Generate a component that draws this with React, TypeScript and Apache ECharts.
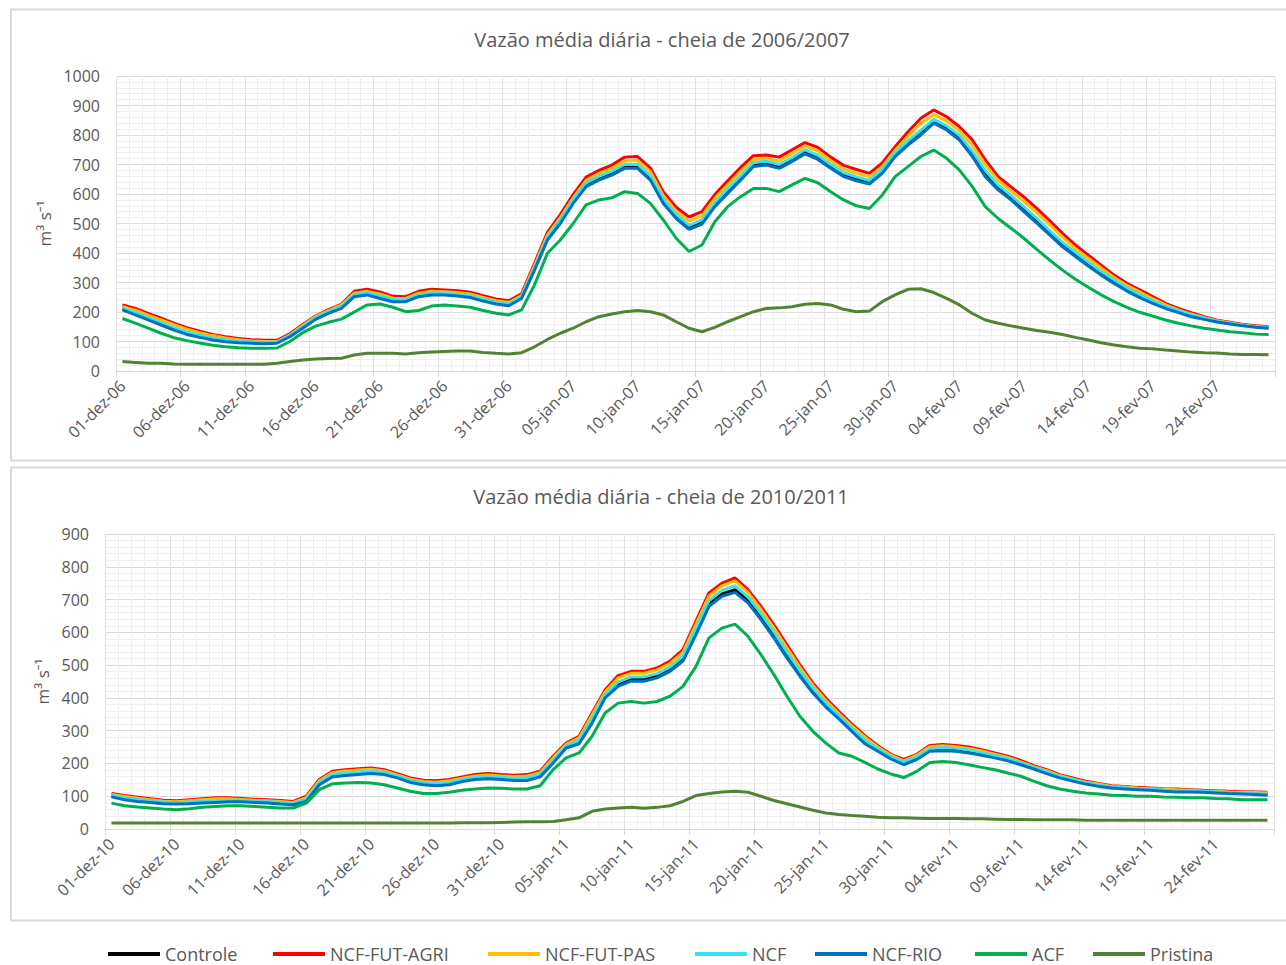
import React, { useEffect, useRef } from "react";
import * as echarts from "echarts";

// ---------- categories ----------
const MONTHS = ["jan", "fev", "mar", "abr", "mai", "jun", "jul", "ago", "set", "out", "nov", "dez"];
const SEASON_MONTHS = [
  { m: 11, days: 31, yearOffset: 0 },
  { m: 0, days: 31, yearOffset: 1 },
  { m: 1, days: 28, yearOffset: 1 },
];
function seasonLabels(startYear: number): string[] {
  const out: string[] = [];
  SEASON_MONTHS.forEach((s) => {
    const yy = String((startYear + s.yearOffset) % 100).padStart(2, "0");
    for (let d = 1; d <= s.days; d++) out.push(String(d).padStart(2, "0") + "-" + MONTHS[s.m] + "-" + yy);
  });
  return out;
}
const DATES_0607 = seasonLabels(2006);
const DATES_1011 = seasonLabels(2010);

const SERIES_NAMES = ["Controle", "NCF-FUT-AGRI", "NCF-FUT-PAS", "NCF", "NCF-RIO", "ACF", "Pristina"];
const SERIES_COLORS = ["#000000", "#ff0000", "#ffc000", "#33e4f0", "#0070c0", "#00b050", "#548235"];

// ---------- 2006/2007 ----------
const CONTROLE_0607 = [211,194,177,160,143,128,118,109,103,100, 98,96,97,119,149,179,199,216,256,262, 250,239,238,256,262,262,258,253,241,231, 225,250,347,449,506,574,632,654,671,694, 694,654,575,524,487,505,564,609,654,700, 705,694,717,743,724,694,666,652,641,677, 734,773,808,847,824,790,735,666,621,587, 547,508,468,428,394,362,331,303,276,254, 234,216,202,188,179,170,162,156,151,148];
const AGRI_0607 = [224,212,195,179,162,147,135,124,116,110, 106,104,104,126,158,186,208,226,270,277, 268,253,252,270,277,275,272,267,255,244, 238,262,365,470,530,598,657,680,698,725, 727,688,607,555,522,540,598,645,690,730, 732,725,750,774,758,725,697,683,670,705, 760,811,857,885,862,828,783,716,659,624, 590,551,510,467,427,393,359,325,297,275, 252,229,212,198,184,172,165,158,153,150];
const PAS_0607 = [218,206,189,173,157,142,130,120,112,106, 102,100,100,122,154,184,205,223,264,270, 261,247,246,264,270,269,266,261,249,238, 232,256,357,461,520,587,646,669,686,712, 714,675,594,542,508,526,585,631,676,717, 720,712,737,762,745,712,684,670,658,693, 748,795,839,869,847,813,765,700,646,610, 575,537,496,454,415,382,349,317,290,268, 245,224,207,193,181,170,163,156,151,148];
const NCF_0607 = [213,198,181,164,147,132,121,112,106,102, 99,97,98,121,151,181,202,219,259,265, 254,242,241,258,264,264,260,255,243,233, 227,252,350,454,512,580,638,660,677,700, 701,661,582,531,494,512,571,617,661,706, 711,700,723,750,731,700,672,658,646,683, 740,780,816,853,831,798,745,680,630,595, 556,517,476,436,402,369,337,309,282,259, 238,220,205,191,180,169,162,155,150,147];
const RIO_0607 = [207,190,173,156,139,124,114,105,99,96, 94,92,94,116,145,175,195,212,252,258, 246,235,235,252,258,258,254,249,237,227, 221,246,342,444,500,568,625,647,664,687, 687,647,568,517,480,498,557,602,647,693, 698,687,710,736,717,687,659,645,634,670, 727,766,800,840,817,783,727,659,614,580, 540,501,461,421,388,356,325,297,271,249, 229,212,198,184,175,166,159,153,148,145];
const ACF_0607 = [178,162,145,128,113,103,95,87,82,79, 77,77,78,100,130,152,165,176,200,224, 227,216,201,205,220,224,220,216,205,196, 190,207,292,399,444,500,563,580,587,608, 602,568,512,450,405,427,506,557,591,619, 619,608,631,653,638,608,580,560,551,596, 659,693,727,749,721,681,625,557,517,484, 450,412,376,342,311,284,258,235,216,199, 186,173,162,153,145,139,133,130,125,124];
const PRISTINA_0607 = [32,29,26,26,24,23,23,23,23,23, 23,23,26,32,37,41,42,43,54,60, 60,60,58,62,64,66,68,68,63,60, 58,62,82,107,128,145,167,184,193,201, 205,201,190,167,145,133,148,167,184,201, 212,214,218,226,229,224,209,201,203,235, 258,277,279,266,246,224,195,173,162,153, 145,137,131,124,114,105,96,88,82,77, 75,71,68,64,62,61,58,56,56,55];

// ---------- 2010/2011 ----------
const CONTROLE_1011 = [101,92,87,84,80,79,80,82,84,86, 86,84,82,79,77,87,138,162,166,169, 172,169,159,145,138,135,138,148,154,156, 154,151,151,162,205,250,264,328,405,440, 456,456,466,486,518,600,686,717,730,697, 646,590,529,472,420,377,340,302,264,240, 217,199,215,240,242,240,235,228,220,211, 199,186,172,159,149,140,133,128,125,123, 121,118,116,116,115,113,111,110,108,106];
const AGRI_1011 = [108,102,97,92,88,86,89,92,95,95, 93,91,89,87,84,100,151,176,181,184, 186,181,169,156,149,147,151,159,166,169, 166,164,166,176,222,262,283,354,424,468, 481,481,491,512,547,634,720,750,766,730, 679,623,562,501,445,399,358,320,285,254, 228,212,228,255,258,255,250,242,232,222, 209,193,181,166,156,146,139,132,130,127, 125,123,122,120,118,117,115,114,113,112];
const PAS_1011 = [105,99,94,89,85,83,86,89,92,92, 90,88,86,84,81,96,147,172,177,180, 182,177,165,152,145,143,147,155,162,165, 162,160,162,172,217,258,278,348,418,461, 475,475,485,505,539,625,711,742,757,722, 670,614,553,493,438,392,352,315,280,250, 225,208,225,251,254,251,246,238,228,218, 205,190,178,163,153,143,137,130,128,125, 123,121,120,118,116,115,113,112,111,110];
const NCF_1011 = [103,95,90,86,82,80,82,84,86,88, 88,86,84,81,79,91,142,167,171,174, 177,173,162,148,141,139,142,151,158,160, 158,155,156,167,210,253,270,337,410,449, 464,464,474,494,527,611,697,728,742,708, 657,601,540,482,429,384,346,308,271,245, 221,204,220,245,248,246,241,233,224,215, 202,188,175,161,151,141,134,128,126,123, 121,119,117,116,115,113,111,110,108,106];
const RIO_1011 = [98,89,84,81,77,76,77,79,81,83, 83,81,79,76,74,84,135,159,163,166, 169,166,156,142,135,132,135,145,151,153, 151,148,148,159,201,247,260,323,400,435, 451,451,461,481,512,593,679,710,722,690, 639,583,522,466,415,372,336,298,260,237, 214,196,212,237,239,237,232,225,217,208, 196,183,169,156,146,137,130,125,122,120, 118,115,113,113,112,110,108,107,105,103];
const ACF_1011 = [79,71,67,64,61,59,62,66,69,71, 71,69,66,64,64,79,120,138,140,142, 140,135,125,115,108,108,112,118,122,125, 124,122,122,132,181,217,232,283,354,384, 389,384,389,405,435,496,583,613,625,588, 532,471,405,344,298,262,232,222,203,183, 168,157,176,203,206,203,196,188,181,171, 161,146,132,122,115,110,107,103,102,100, 100,98,97,95,95,93,92,89,89,89];
const PRISTINA_1011 = [18,18,18,18,18,18,18,18,18,18, 18,18,18,18,18,18,18,18,18,18, 18,18,18,18,18,18,18,19,19,19, 20,21,22,22,23,28,34,54,61,64, 66,63,66,71,84,102,108,113,115,112, 100,87,77,67,57,49,44,41,39,36, 34,34,33,32,32,32,31,31,30,29, 29,28,28,28,28,27,27,27,27,27, 27,27,27,27,27,27,27,27,27,27];

const PANEL_0607 = [CONTROLE_0607, AGRI_0607, PAS_0607, NCF_0607, RIO_0607, ACF_0607, PRISTINA_0607];
const PANEL_1011 = [CONTROLE_1011, AGRI_1011, PAS_1011, NCF_1011, RIO_1011, ACF_1011, PRISTINA_1011];

const TITLES = ["Vazão média diária - cheia de 2006/2007", "Vazão média diária - cheia de 2010/2011"];
const Y_MAX = [1000, 900];
const Y_NAME = "m³ s⁻¹";

const FONT = "'Open Sans', 'Noto Sans', sans-serif";
const TEXT_COLOR = "#595959";
const MAJOR = "#d9d9d9";
const MINOR = "#efefef";

const LEGEND_LEFT = [103, 268, 483, 690, 810, 970, 1088];

export default function App() {
  const ref = useRef<HTMLDivElement>(null);
  useEffect(() => {
    if (!ref.current) return;
    const chart = echarts.init(ref.current, undefined, { renderer: "svg" });

    const grids = [
      { left: 116, top: 76, width: 1159, height: 295 },
      { left: 105, top: 534, width: 1169, height: 295 },
    ];
    const cats = [DATES_0607, DATES_1011];
    const xAxis: any[] = [];
    const yAxis: any[] = [];
    const series: any[] = [];
    [PANEL_0607, PANEL_1011].forEach((panel, p) => {
      xAxis.push({
        type: "category",
        gridIndex: p,
        data: cats[p],
        boundaryGap: true,
        position: "bottom",
        axisLine: { show: false },
        axisTick: { show: false },
        axisLabel: { show: false },
        splitLine: { show: true, interval: 0, lineStyle: { color: MINOR, width: 1 } },
      });
      xAxis.push({
        type: "category",
        gridIndex: p,
        data: cats[p],
        boundaryGap: true,
        position: "bottom",
        axisLine: { show: true, lineStyle: { color: MAJOR, width: 1 } },
        axisTick: { show: true, interval: 4, length: 6, lineStyle: { color: MAJOR } },
        axisLabel: {
          interval: 4,
          rotate: 45,
          margin: 12,
          fontSize: 16,
          color: TEXT_COLOR,
          fontFamily: FONT,
        },
        splitLine: { show: true, interval: 4, lineStyle: { color: "#e2e2e2", width: 1 } },
      });
      yAxis.push({
        type: "value",
        gridIndex: p,
        min: 0,
        max: Y_MAX[p],
        interval: 100,
        name: Y_NAME,
        nameLocation: "middle",
        nameGap: p === 0 ? 58 : 47,
        nameTextStyle: { fontSize: 17, color: TEXT_COLOR, fontFamily: FONT },
        axisLine: { show: false },
        axisTick: { show: false },
        axisLabel: {
          margin: 16,
          fontSize: 16,
          color: TEXT_COLOR,
          fontFamily: FONT,
          formatter: (v: number) => String(v),
        },
        splitLine: { show: true, lineStyle: { color: MAJOR, width: 1 } },
        minorTick: { show: false, splitNumber: 5 },
        minorSplitLine: { show: true, lineStyle: { color: MINOR, width: 1 } },
      });
      panel.forEach((vals, s) => {
        series.push({
          type: "line",
          name: SERIES_NAMES[s],
          xAxisIndex: p * 2 + 1,
          yAxisIndex: p,
          data: vals,
          symbol: "none",
          smooth: false,
          lineStyle: { width: 3, color: SERIES_COLORS[s] },
          itemStyle: { color: SERIES_COLORS[s] },
          emphasis: { disabled: true },
        });
      });
    });

    const legends = SERIES_NAMES.map((n, i) => ({
      data: [n],
      left: LEGEND_LEFT[i],
      top: 940,
      icon: "rect",
      itemWidth: 52,
      itemHeight: 4,
      selectedMode: false,
      textStyle: { fontSize: 18, color: TEXT_COLOR, fontFamily: FONT },
    }));

    chart.setOption({
      animation: false,
      backgroundColor: "#ffffff",
      textStyle: { fontFamily: FONT },
      title: [
        {
          text: TITLES[0],
          left: 657,
          top: 24,
          textAlign: "center",
          textStyle: { fontSize: 20, fontWeight: "normal", color: TEXT_COLOR, fontFamily: FONT },
        },
        {
          text: TITLES[1],
          left: 656,
          top: 481,
          textAlign: "center",
          textStyle: { fontSize: 20, fontWeight: "normal", color: TEXT_COLOR, fontFamily: FONT },
        },
      ],
      legend: legends,
      grid: grids,
      xAxis,
      yAxis,
      series,
      graphic: [
        {
          type: "rect",
          shape: { x: 11, y: 9.5, width: 1290, height: 451 },
          style: { fill: "none", stroke: MAJOR, lineWidth: 2 },
          silent: true,
          z: -10,
        },
        {
          type: "rect",
          shape: { x: 11, y: 467.5, width: 1290, height: 453 },
          style: { fill: "none", stroke: MAJOR, lineWidth: 2 },
          silent: true,
          z: -10,
        },
      ],
    });
    return () => chart.dispose();
  }, []);
  return (
    <div
      ref={ref}
      style={{ position: "fixed", left: 0, top: 0, width: 1286, height: 965, background: "#fff" }}
    />
  );
}
